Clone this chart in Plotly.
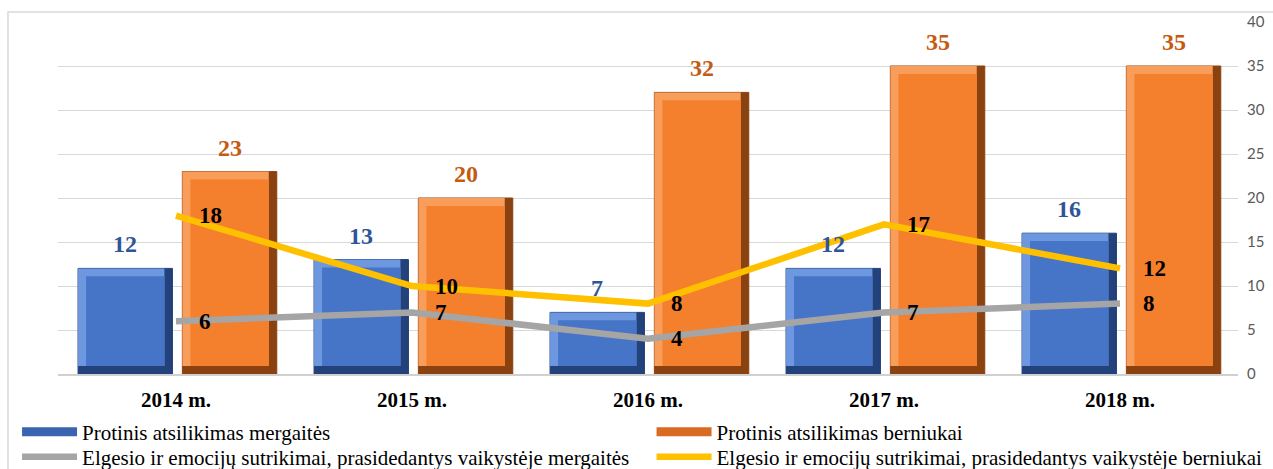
import plotly.graph_objects as go

# data
years = ["2014 m.", "2015 m.", "2016 m.", "2017 m.", "2018 m."]
protinis_mergaites = [12, 13, 7, 12, 16]
protinis_berniukai = [23, 20, 32, 35, 35]
elgesio_mergaites = [6, 7, 4, 7, 8]
elgesio_berniukai = [18, 10, 8, 17, 12]

names = [
    "Protinis atsilikimas mergaitės",
    "Protinis atsilikimas berniukai",
    "Elgesio ir emocijų sutrikimai, prasidedantys vaikystėje mergaitės",
    "Elgesio ir emocijų sutrikimai, prasidedantys vaikystėje berniukai",
]

SERIF = "Liberation Serif"
BAR_W = 0.40
IX = 0.034   # bevel width in category units (~8px)
IY = 0.9     # bevel height in y units (~8px)


def add_bevel_bar(fig, values, off, dark, light, face):
    # outer dark edge (bottom / right)
    fig.add_trace(go.Bar(x=years, y=values, offset=off, width=BAR_W,
                         marker=dict(color=dark, line=dict(color=dark, width=1)),
                         showlegend=False, hoverinfo="skip"))
    # light top / left bevel
    fig.add_trace(go.Bar(x=years, y=[v - IY for v in values], base=IY,
                         offset=off, width=BAR_W - IX,
                         marker=dict(color=light, line=dict(width=0)),
                         showlegend=False, hoverinfo="skip"))
    # face
    fig.add_trace(go.Bar(x=years, y=[v - 2 * IY for v in values], base=IY,
                         offset=off + IX, width=BAR_W - 2 * IX,
                         marker=dict(color=face, line=dict(width=0)),
                         showlegend=False, hoverinfo="skip"))


fig = go.Figure()

add_bevel_bar(fig, protinis_mergaites, -0.415, "#23417a", "#6d98e0", "#4674c6")
add_bevel_bar(fig, protinis_berniukai, 0.027, "#8a4210", "#f99d5a", "#f47f2c")

# lines
fig.add_trace(go.Scatter(x=years, y=elgesio_mergaites, mode="lines", name=names[2],
                         line=dict(color="#a5a5a5", width=6.5), legend="legend3"))
fig.add_trace(go.Scatter(x=years, y=elgesio_berniukai, mode="lines", name=names[3],
                         line=dict(color="#ffc000", width=6.5), legend="legend4"))

# legend entries for the bars
fig.add_trace(go.Scatter(x=[None], y=[None], mode="lines", name=names[0],
                         line=dict(color="#3b64b0", width=9), legend="legend"))
fig.add_trace(go.Scatter(x=[None], y=[None], mode="lines", name=names[1],
                         line=dict(color="#d96a22", width=9), legend="legend2"))

# data labels
annotations = []
for i, y in enumerate(years):
    annotations.append(dict(x=i - 0.415 + BAR_W / 2, y=protinis_mergaites[i], text=str(protinis_mergaites[i]),
                            showarrow=False, yanchor="middle", yshift=24,
                            font=dict(family=SERIF, size=24, color="#2f5597", weight="bold")))
    annotations.append(dict(x=i + 0.027 + BAR_W / 2, y=protinis_berniukai[i], text=str(protinis_berniukai[i]),
                            showarrow=False, yanchor="middle", yshift=24,
                            font=dict(family=SERIF, size=24, color="#c55a11", weight="bold")))
    annotations.append(dict(x=i, y=elgesio_berniukai[i], text=str(elgesio_berniukai[i]),
                            showarrow=False, xanchor="left", xshift=21, yanchor="middle",
                            font=dict(family=SERIF, size=23, color="black", weight="bold")))
    annotations.append(dict(x=i, y=elgesio_mergaites[i], text=str(elgesio_mergaites[i]),
                            showarrow=False, xanchor="left", xshift=21, yanchor="middle",
                            font=dict(family=SERIF, size=23, color="black", weight="bold")))

legend_style = dict(orientation="v", yanchor="middle", xanchor="left",
                    itemwidth=55, font=dict(family=SERIF, size=21, color="black"),
                    bgcolor="rgba(0,0,0,0)")
row1, row2 = -0.165, -0.236
col1, col2 = -0.0347, 0.503

fig.update_layout(
    width=1273, height=469,
    margin=dict(l=58, r=35, t=22, b=95, autoexpand=False),
    paper_bgcolor="white", plot_bgcolor="white",
    barmode="overlay",
    annotations=annotations,
    xaxis=dict(type="category", range=[-0.5, 4.5], showgrid=False,
               showline=True, linecolor="#d0d0d0", linewidth=1.5, ticks="",
               tickfont=dict(family=SERIF, size=21, color="black", weight="bold"),
               ticklabelstandoff=6),
    yaxis=dict(side="right", range=[0, 40], dtick=5, showgrid=True,
               gridcolor="#d9d9d9", gridwidth=1, zeroline=False, ticks="",
               tickfont=dict(family="Lato", size=15, color="#595959"),
               ticklabelstandoff=8),
    legend=dict(x=col1, y=row1, **legend_style),
    legend2=dict(x=col2, y=row1, **legend_style),
    legend3=dict(x=col1, y=row2, **legend_style),
    legend4=dict(x=col2, y=row2, **legend_style),
    shapes=[dict(type="path", xref="paper", yref="paper",
                 path="M -0.0424,-0.4 L -0.0424,1.0284 L 1.05,1.0284",
                 line=dict(color="#d9d9d9", width=1.5))],
)

fig.write_html("out.html", config={"displayModeBar": False},
               post_script="document.body.style.margin='0';")
